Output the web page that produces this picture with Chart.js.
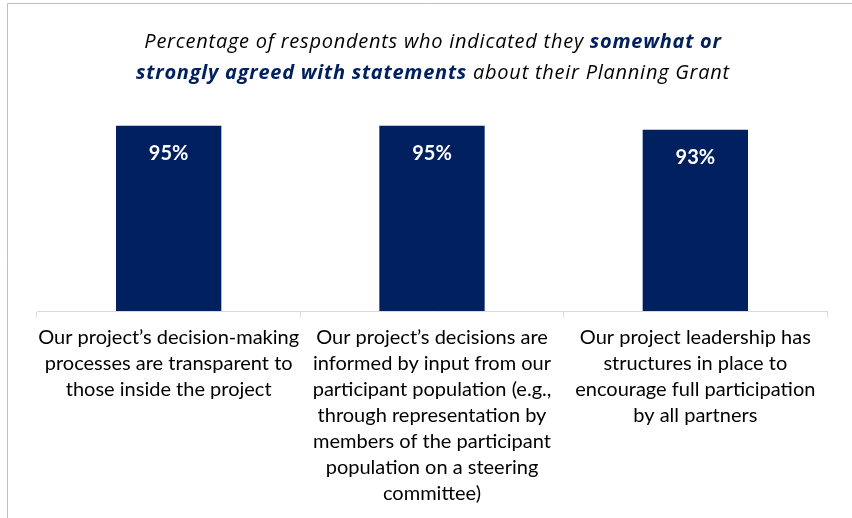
<!DOCTYPE html>
<html>
<head>
<meta charset="utf-8">
<script src="https://cdn.jsdelivr.net/npm/chart.js@4"></script>
<style>
  html, body { margin: 0; padding: 0; background: #fff; }
  #wrap { width: 852px; height: 518px; position: relative; }
</style>
</head>
<body>
<div id="wrap"><canvas id="chart" width="852" height="518"></canvas></div>
<script>
// statements (already wrapped the way the source wraps them)
const statements = [
    ['Our project\u2019s decision-making', 'processes are transparent to', 'those inside the project'],
    ['Our project\u2019s decisions are', 'informed by input from our', 'participant population (e.g.,',
     'through representation by', 'members of the participant', 'population on a steering', 'committee)'],
    ['Our project leadership has', 'structures in place to', 'encourage full participation', 'by all partners']
];
const agreePct = [95, 95, 93];
const valueMax = 100;

// title pieces: [text, bold?]
const titleLine1 = [['Percentage of respondents who indicated they ', false], ['somewhat or', true]];
const titleLine2 = [['strongly agreed with statements', true], [' about their Planning Grant', false]];

const navy = '#002060';
const fontFam = 'Lato, "Open Sans", sans-serif';
const titleFam = '"Open Sans", Lato, sans-serif';

const framePlugin = {
    id: 'frame',
    beforeDraw(chart) {
        const ctx = chart.ctx;
        ctx.save();
        ctx.fillStyle = '#fff';
        ctx.fillRect(0, 0, chart.width, chart.height);
        ctx.strokeStyle = '#bfbfbf';
        ctx.lineWidth = 1;
        ctx.beginPath();
        ctx.moveTo(7.5, chart.height);
        ctx.lineTo(7.5, 3.5);
        ctx.lineTo(chart.width, 3.5);
        ctx.stroke();
        ctx.restore();
    }
};

function drawRichLine(ctx, parts, cx, y) {
    const fonts = parts.map(p => (p[1] ? 'italic bold ' : 'italic ') + '20px ' + titleFam);
    let total = 0;
    const widths = parts.map((p, i) => { ctx.font = fonts[i]; const w = ctx.measureText(p[0]).width; total += w; return w; });
    let x = cx - total / 2;
    parts.forEach((p, i) => {
        ctx.font = fonts[i];
        ctx.fillStyle = p[1] ? navy : '#000';
        ctx.fillText(p[0], x, y);
        x += widths[i];
    });
}

const titlePlugin = {
    id: 'richTitle',
    afterDraw(chart) {
        const ctx = chart.ctx;
        ctx.save();
        ctx.letterSpacing = '0.75px';
        ctx.textBaseline = 'alphabetic';
        ctx.textAlign = 'left';
        drawRichLine(ctx, titleLine1, 433, 48);
        drawRichLine(ctx, titleLine2, 433, 79);
        ctx.restore();
    }
};

const valueLabels = {
    id: 'valueLabels',
    afterDatasetsDraw(chart) {
        const ctx = chart.ctx;
        const meta = chart.getDatasetMeta(0);
        ctx.save();
        ctx.fillStyle = '#fff';
        ctx.font = 'bold 20px ' + fontFam;
        ctx.textAlign = 'center';
        ctx.textBaseline = 'middle';
        meta.data.forEach((bar, i) => {
            ctx.fillText(agreePct[i] + '%', bar.x, bar.y + 28);
        });
        ctx.restore();
    }
};

new Chart(document.getElementById('chart').getContext('2d'), {
    type: 'bar',
    data: {
        labels: statements,
        datasets: [{
            data: agreePct,
            backgroundColor: navy,
            borderWidth: 0,
            categoryPercentage: 1,
            barPercentage: 0.4
        }]
    },
    options: {
        responsive: false,
        animation: false,
        layout: { padding: { left: 37, right: 25, top: 116, bottom: 0 } },
        plugins: { legend: { display: false }, tooltip: { enabled: false }, title: { display: false } },
        scales: {
            y: { display: false, min: 0, max: valueMax },
            x: {
                afterFit(scale) { scale.height = 207; },
                border: { color: '#d9d9d9', width: 1 },
                grid: { drawOnChartArea: false, drawTicks: true, tickLength: 6, color: '#d9d9d9' },
                ticks: {
                    color: '#000',
                    font: { family: fontFam, size: 20, lineHeight: 1.3 },
                    maxRotation: 0, minRotation: 0, autoSkip: false, padding: 8
                }
            }
        }
    },
    plugins: [framePlugin, titlePlugin, valueLabels]
});
</script>
</body>
</html>
